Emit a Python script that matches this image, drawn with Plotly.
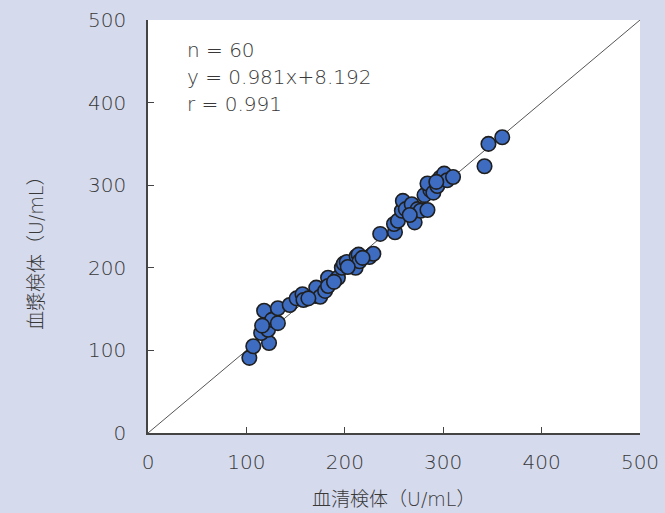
import plotly.graph_objects as go

serum = [103, 107, 123, 115, 122, 118, 126, 132, 132, 144, 151, 157, 158, 170, 171,
         175, 180, 183, 183, 193, 197, 199, 202, 211, 212, 214, 215, 225, 229, 236,
         251, 250, 254, 258, 259, 262, 268, 271, 274, 277, 284, 281, 287, 284, 290,
         294, 297, 301, 304, 310, 342, 346, 360, 163, 203, 218, 266, 293, 116, 189]
plasma = [91, 105, 109, 121, 125, 148, 137, 133, 151, 155, 163, 168, 161, 166, 176,
          165, 172, 188, 178, 188, 200, 205, 207, 200, 214, 216, 208, 213, 217, 241,
          243, 253, 257, 269, 281, 271, 277, 255, 271, 269, 270, 288, 294, 302, 291,
          299, 309, 314, 306, 310, 323, 350, 358, 163, 201, 212, 264, 304, 130, 183]
diag = [0, 500]
ticks = [0, 100, 200, 300, 400, 500]
stats = ["n = 60", "y = 0.981x+8.192", "r = 0.991"]

FONT = "DejaVu Sans, Noto Sans CJK JP"
TXT = "#383838"
AX = "#444444"

fig = go.Figure()
fig.add_trace(go.Scatter(x=diag, y=diag, mode="lines",
                         line=dict(color="#555555", width=1), hoverinfo="skip"))
fig.add_trace(go.Scatter(x=serum, y=plasma, mode="markers",
                         marker=dict(size=14.5, color="#3d6cc0",
                                     line=dict(color="#1f1f1f", width=1.6))))

axis_common = dict(range=[0, 500], tickvals=ticks, ticks="inside", ticklen=6,
                   tickcolor=AX, tickwidth=1.2, showline=True, linecolor=AX,
                   linewidth=1.6, showgrid=False, zeroline=False, mirror=False,
                   automargin=False,
                   tickfont=dict(family=FONT, size=20, color=TXT, weight=300))
fig.update_xaxes(**axis_common, ticklabelstandoff=10)
fig.update_yaxes(**axis_common, ticklabelstandoff=16)

annotations = []
for i, s in enumerate(stats):
    annotations.append(dict(x=37 / 492, y=1 - (30 + 27 * i) / 413, xref="paper",
                            yref="paper", text=s, showarrow=False, xanchor="left",
                            yanchor="middle",
                            font=dict(family=FONT, size=20, color=TXT, weight=300)))
annotations.append(dict(x=(393 - 148) / 492, y=-(499 - 433) / 413, xref="paper",
                        yref="paper", text="血清検体（U/mL）", showarrow=False,
                        yanchor="middle", xanchor="center",
                        font=dict(family=FONT, size=19, color=TXT, weight=300)))
annotations.append(dict(x=-(148 - 36) / 492, y=(433 - 249) / 413, xref="paper",
                        yref="paper", text="血漿検体（U/mL）", showarrow=False,
                        textangle=-90, xanchor="center", yanchor="middle",
                        font=dict(family=FONT, size=19, color=TXT, weight=300)))

fig.update_layout(width=665, height=513, showlegend=False,
                  margin=dict(l=148, r=25, t=20, b=80, pad=0, autoexpand=False),
                  paper_bgcolor="#d5daed", plot_bgcolor="#ffffff",
                  annotations=annotations)
fig.write_html("out.html", config={"displayModeBar": False},
               post_script="document.body.style.margin='0';document.body.style.overflow='hidden';")
